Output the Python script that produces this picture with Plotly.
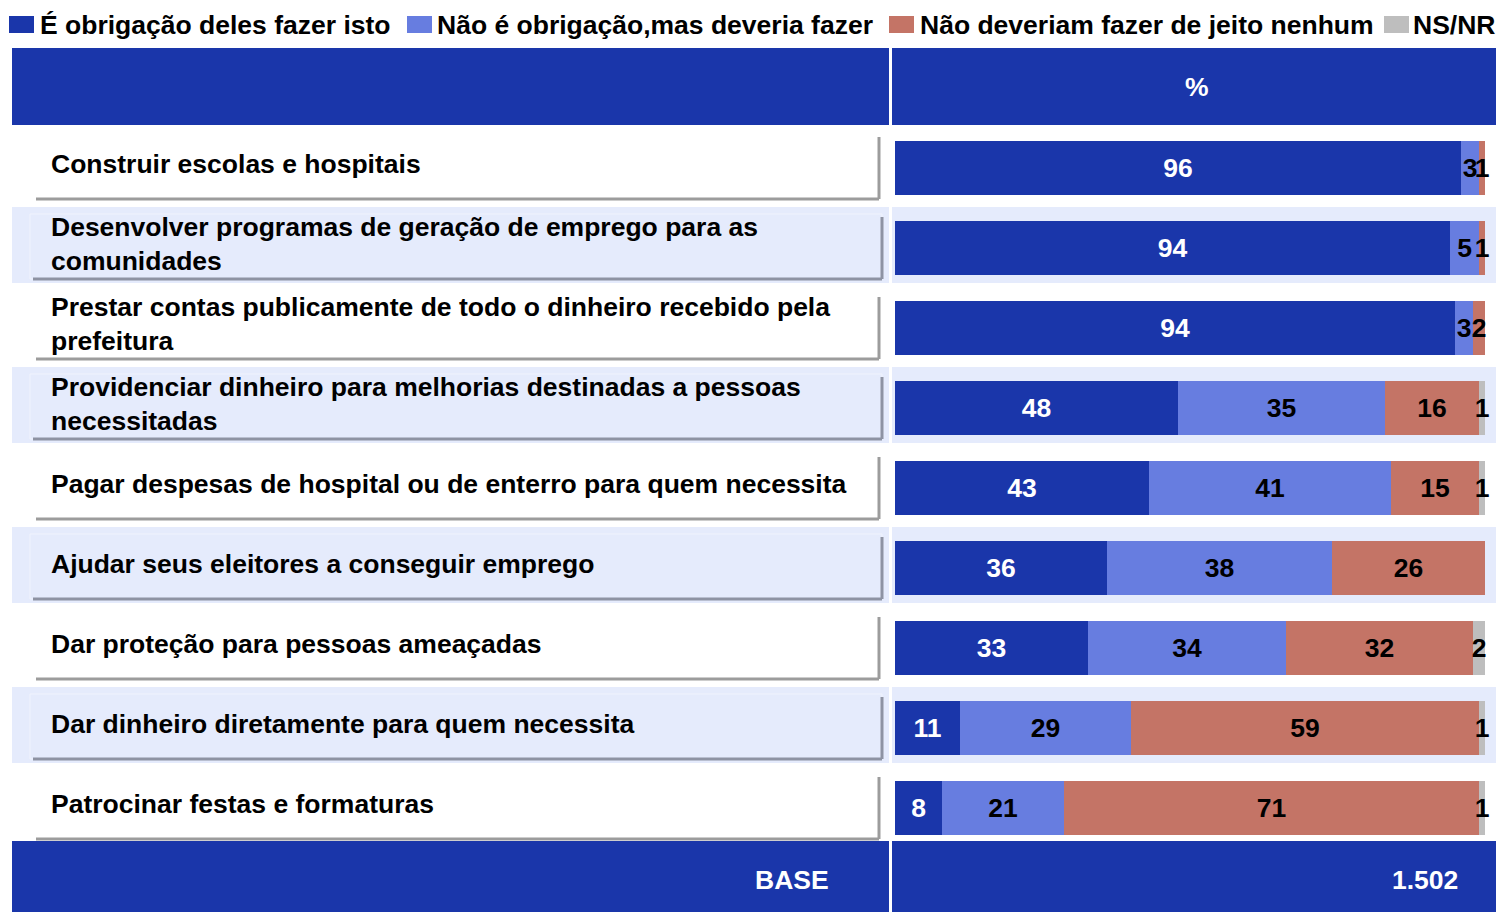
import plotly.graph_objects as go

# ---------------- data ----------------
categories = [
    "Construir escolas e hospitais",
    "Desenvolver programas de geração de emprego para as<br>comunidades",
    "Prestar contas publicamente de todo o dinheiro recebido pela<br>prefeitura",
    "Providenciar dinheiro para melhorias destinadas a pessoas<br>necessitadas",
    "Pagar despesas de hospital ou de enterro para quem necessita",
    "Ajudar seus eleitores a conseguir emprego",
    "Dar proteção para pessoas ameaçadas",
    "Dar dinheiro diretamente para quem necessita",
    "Patrocinar festas e formaturas",
]
series_names = [
    "É obrigação deles fazer isto",
    "Não é obrigação,mas deveria fazer",
    "Não deveriam fazer de jeito nenhum",
    "NS/NR",
]
obrigacao = [96, 94, 94, 48, 43, 36, 33, 11, 8]
deveria = [3, 5, 3, 35, 41, 38, 34, 29, 21]
nao_deveriam = [1, 1, 2, 16, 15, 26, 32, 59, 71]
ns_nr = [0, 0, 0, 1, 1, 0, 2, 1, 1]
header_label = "%"
base_label = "BASE"
base_value = "1.502"

# ---------------- style ----------------
OFF = 8                      # page body margin
FW, FH = 1504 - 2 * OFF, 912 - OFF
DARK = "#1A36AA"
LIGHT = "#677DE0"
RED = "#C47466"
GRAY = "#BEBEBE"
ROWBG = "#E5EBFC"
BORDER = "#9C9C9C"
BORDER2 = "#8E93A3"
FONT = "Liberation Sans, Arial, sans-serif"
FS = 26.5
colors = [DARK, LIGHT, RED, GRAY]
text_colors = ["white", "black", "black", "black"]

ROW0, PITCH = 168, 80          # screen pixel centre of first row and row pitch
BAR_X0, BAR_X1 = 895, 1485


def py(p):
    """screen pixel (from top) -> paper y"""
    return 1 - (p - OFF) / FH


def px(p):
    return (p - OFF) / FW


n = len(categories)
rows = list(range(n))
series = [obrigacao, deveria, nao_deveriam, ns_nr]
totals = [sum(s[i] for s in series) for i in range(n)]

fig = go.Figure()
for name, vals, col, tcol in zip(series_names, series, colors, text_colors):
    fig.add_trace(go.Bar(
        y=rows,
        x=[v / t for v, t in zip(vals, totals)],
        orientation="h",
        name=name,
        marker=dict(color=col, line=dict(width=0)),
        width=54 / PITCH,
        text=[str(v) if v > 0 else "" for v in vals],
        textposition="inside",
        insidetextanchor="middle",
        textangle=0,
        constraintext="none",
        textfont=dict(color=tcol, size=FS, family=FONT, weight="bold"),
        cliponaxis=False,
        hoverinfo="skip",
        showlegend=False,
    ))

shapes = []
annotations = []


def bold(size=FS, color="black"):
    return dict(color=color, size=size, family=FONT, weight="bold")


# header
for x0, x1 in [(12, 889), (892, 1501)]:
    shapes.append(dict(type="rect", xref="paper", yref="paper", x0=px(x0), x1=px(x1),
                       y0=py(125), y1=py(48), fillcolor=DARK, line=dict(width=0), layer="below"))
annotations.append(dict(xref="paper", yref="paper", x=px(1197), y=py(87), text=header_label,
                        xanchor="center", yanchor="middle", showarrow=False,
                        font=bold(color="white")))

# rows
for i, lab in enumerate(categories):
    c = ROW0 + PITCH * i
    shaded = (i % 2 == 1)
    if shaded:
        for x0, x1 in [(12, 889), (892, 1501)]:
            shapes.append(dict(type="rect", xref="paper", yref="paper", x0=px(x0), x1=px(x1),
                               y0=py(c + 35), y1=py(c - 41), fillcolor=ROWBG,
                               line=dict(width=0), layer="below"))
    fill = ROWBG if shaded else "white"
    bcol = BORDER2 if shaded else BORDER
    bx0, bx1 = (30, 882) if shaded else (33, 879)
    top, bot = c - 34, c + 31
    shapes.append(dict(type="rect", xref="paper", yref="paper", x0=px(bx0), x1=px(bx1),
                       y0=py(bot), y1=py(top), fillcolor=fill,
                       line=dict(width=1, color="#F0F3FD" if shaded else "white"), layer="below"))
    # shadow edges (right and bottom)
    shapes.append(dict(type="line", xref="paper", yref="paper", x0=px(bx0 + 3), x1=px(bx1),
                       y0=py(bot), y1=py(bot), line=dict(width=3, color=bcol), layer="below"))
    shapes.append(dict(type="line", xref="paper", yref="paper", x0=px(bx1), x1=px(bx1),
                       y0=py(bot), y1=py(top + 3), line=dict(width=3, color=bcol), layer="below"))
    annotations.append(dict(xref="paper", yref="paper", x=px(49), y=py(c - 4), text=lab,
                            xanchor="left", yanchor="middle", align="left", showarrow=False,
                            font=bold()))

# footer
for x0, x1 in [(12, 889), (892, 1501)]:
    shapes.append(dict(type="rect", xref="paper", yref="paper", x0=px(x0), x1=px(x1),
                       y0=py(OFF + FH), y1=py(841), fillcolor=DARK, line=dict(width=0),
                       layer="below"))
annotations.append(dict(xref="paper", yref="paper", x=px(831), y=py(880), text=base_label,
                        xanchor="right", yanchor="middle", showarrow=False,
                        font=bold(color="white")))
annotations.append(dict(xref="paper", yref="paper", x=px(1460), y=py(880), text=base_value,
                        xanchor="right", yanchor="middle", showarrow=False,
                        font=bold(color="white")))

# legend (custom)
legend_x = [(9, 38), (407, 435), (889, 918), (1384, 1411)]
for (sx, tx), name, col in zip(legend_x, series_names, colors):
    shapes.append(dict(type="rect", xref="paper", yref="paper", x0=px(sx), x1=px(sx + 25),
                       y0=py(33), y1=py(16), fillcolor=col, line=dict(width=0)))
    annotations.append(dict(xref="paper", yref="paper", x=px(tx), y=py(25), text=name,
                            xanchor="left", yanchor="middle", showarrow=False, font=bold()))

fig.update_layout(
    width=FW, height=FH,
    margin=dict(l=0, r=0, t=0, b=0),
    paper_bgcolor="white", plot_bgcolor="rgba(0,0,0,0)",
    barmode="stack", bargap=0,
    uniformtext=dict(minsize=FS, mode="show"),
    xaxis=dict(domain=[px(BAR_X0), px(BAR_X1)], range=[0, 1], visible=False, fixedrange=True),
    yaxis=dict(range=[(OFF + FH - ROW0) / PITCH, (OFF - ROW0) / PITCH],
               visible=False, fixedrange=True),
    shapes=shapes,
    annotations=annotations,
    showlegend=False,
)

fig.write_html("out.html")
